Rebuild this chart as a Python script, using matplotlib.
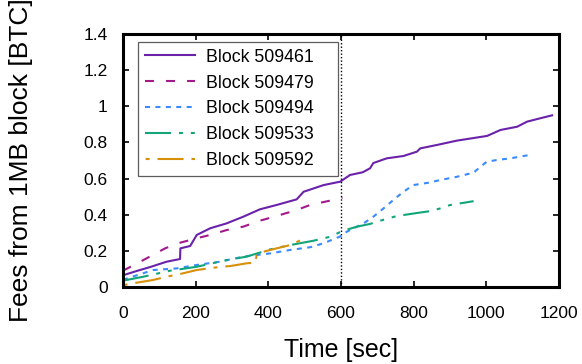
import numpy as np
import matplotlib
matplotlib.use("Agg")
import matplotlib.pyplot as plt
from matplotlib.ticker import FormatStrFormatter

plt.rcParams['font.family'] = ['Liberation Sans', 'DejaVu Sans']

# dados (tempo em s, taxas em BTC)
t_461 = [0, 40, 74, 120, 157, 158, 185, 203, 240, 285, 331, 377, 423, 478, 497, 552, 598,
         625, 660, 680, 689, 726, 772, 809, 818, 864, 919, 1002, 1039, 1085, 1112, 1149, 1181]
v_461 = [0.065, 0.09, 0.11, 0.14, 0.155, 0.214, 0.227, 0.288, 0.325, 0.352, 0.389, 0.43, 0.454,
         0.485, 0.527, 0.564, 0.583, 0.62, 0.635, 0.657, 0.686, 0.712, 0.725, 0.749, 0.767, 0.786,
         0.81, 0.836, 0.869, 0.887, 0.915, 0.934, 0.95]

t_479 = [0, 56, 116, 157, 203, 240, 285, 331, 377, 423, 478, 515, 570, 604]
v_479 = [0.09, 0.149, 0.214, 0.245, 0.27, 0.288, 0.315, 0.334, 0.367, 0.393, 0.426, 0.454, 0.478, 0.495]

t_494 = [0, 83, 148, 203, 267, 331, 405, 460, 515, 552, 598, 616, 662, 689, 717, 749, 772, 799,
         840, 873, 919, 965, 984, 1002, 1030, 1066, 1117]
v_494 = [0.04, 0.094, 0.103, 0.122, 0.14, 0.168, 0.186, 0.205, 0.22, 0.242, 0.28, 0.306, 0.352,
         0.389, 0.435, 0.49, 0.527, 0.564, 0.577, 0.592, 0.61, 0.633, 0.666, 0.694, 0.703, 0.712, 0.73]

t_533 = [0, 56, 129, 203, 285, 340, 405, 460, 524, 570, 604, 644, 680, 708, 754, 814, 846, 873, 901, 965]
v_533 = [0.035, 0.057, 0.09, 0.112, 0.149, 0.168, 0.208, 0.232, 0.256, 0.278, 0.31, 0.334, 0.349,
         0.367, 0.393, 0.411, 0.42, 0.435, 0.454, 0.475]

t_592 = [0, 38, 83, 120, 157, 203, 258, 295, 340, 364, 368, 386, 423, 460, 490]
v_592 = [0.01, 0.024, 0.039, 0.057, 0.072, 0.094, 0.109, 0.116, 0.131, 0.135, 0.177, 0.195, 0.214, 0.232, 0.26]

fig = plt.figure(figsize=(5.82, 3.64), dpi=100)
ax = fig.add_axes([0.2113, 0.2115, 0.7492, 0.6951])

lw = 1.5
ax.plot(t_461, v_461, color="#6a22aa", lw=lw, label="Block 509461")
ax.plot(t_479, v_479, color="#a3198c", lw=lw, linestyle=(0, (4.3, 5.8)), label="Block 509479")
ax.plot(t_494, v_494, color="#3a8bff", lw=lw, linestyle=(0, (2.4, 2.6)), label="Block 509494")
ax.plot(t_533, v_533, color="#12a57a", lw=lw, linestyle=(0, (12.5, 3.8, 1.9, 3.8, 1.9, 3.8)),
        label="Block 509533")
ax.plot(t_592, v_592, color="#d8900a", lw=lw, linestyle=(16, (12.5, 3.8, 1.9, 3.8)),
        label="Block 509592")

ax.axvline(x=600, color="k", lw=1, linestyle=(0, (1, 1.5)))

ax.set_xlim(0, 1200)
ax.set_ylim(0, 1.4)
ax.set_xticks(np.arange(0, 1201, 200))
ax.set_yticks(np.arange(0, 1.41, 0.2))
ax.yaxis.set_major_formatter(FormatStrFormatter('%g'))
ax.tick_params(direction="in", length=4.5, width=1.2, top=True, right=True, labelsize=12.5)
ax.tick_params(axis="y", pad=11)
ax.tick_params(axis="x", pad=14)
for s in ax.spines.values():
    s.set_linewidth(2.2)

ax.set_xlabel("Time [sec]", fontsize=18, labelpad=12)
ax.set_ylabel("Fees from 1MB block [BTC]", fontsize=19, labelpad=36)

leg = ax.legend(loc="upper left", bbox_to_anchor=(0.034, 0.443, 0.458, 0.527), mode="expand",
                fontsize=12.8, frameon=True, fancybox=False, borderaxespad=0,
                handlelength=2.8, handletextpad=0.65, labelspacing=0.5, borderpad=0.4)
leg.get_frame().set_edgecolor("#333333")
leg.get_frame().set_linewidth(0.9)

plt.savefig("out.png", dpi=100)
